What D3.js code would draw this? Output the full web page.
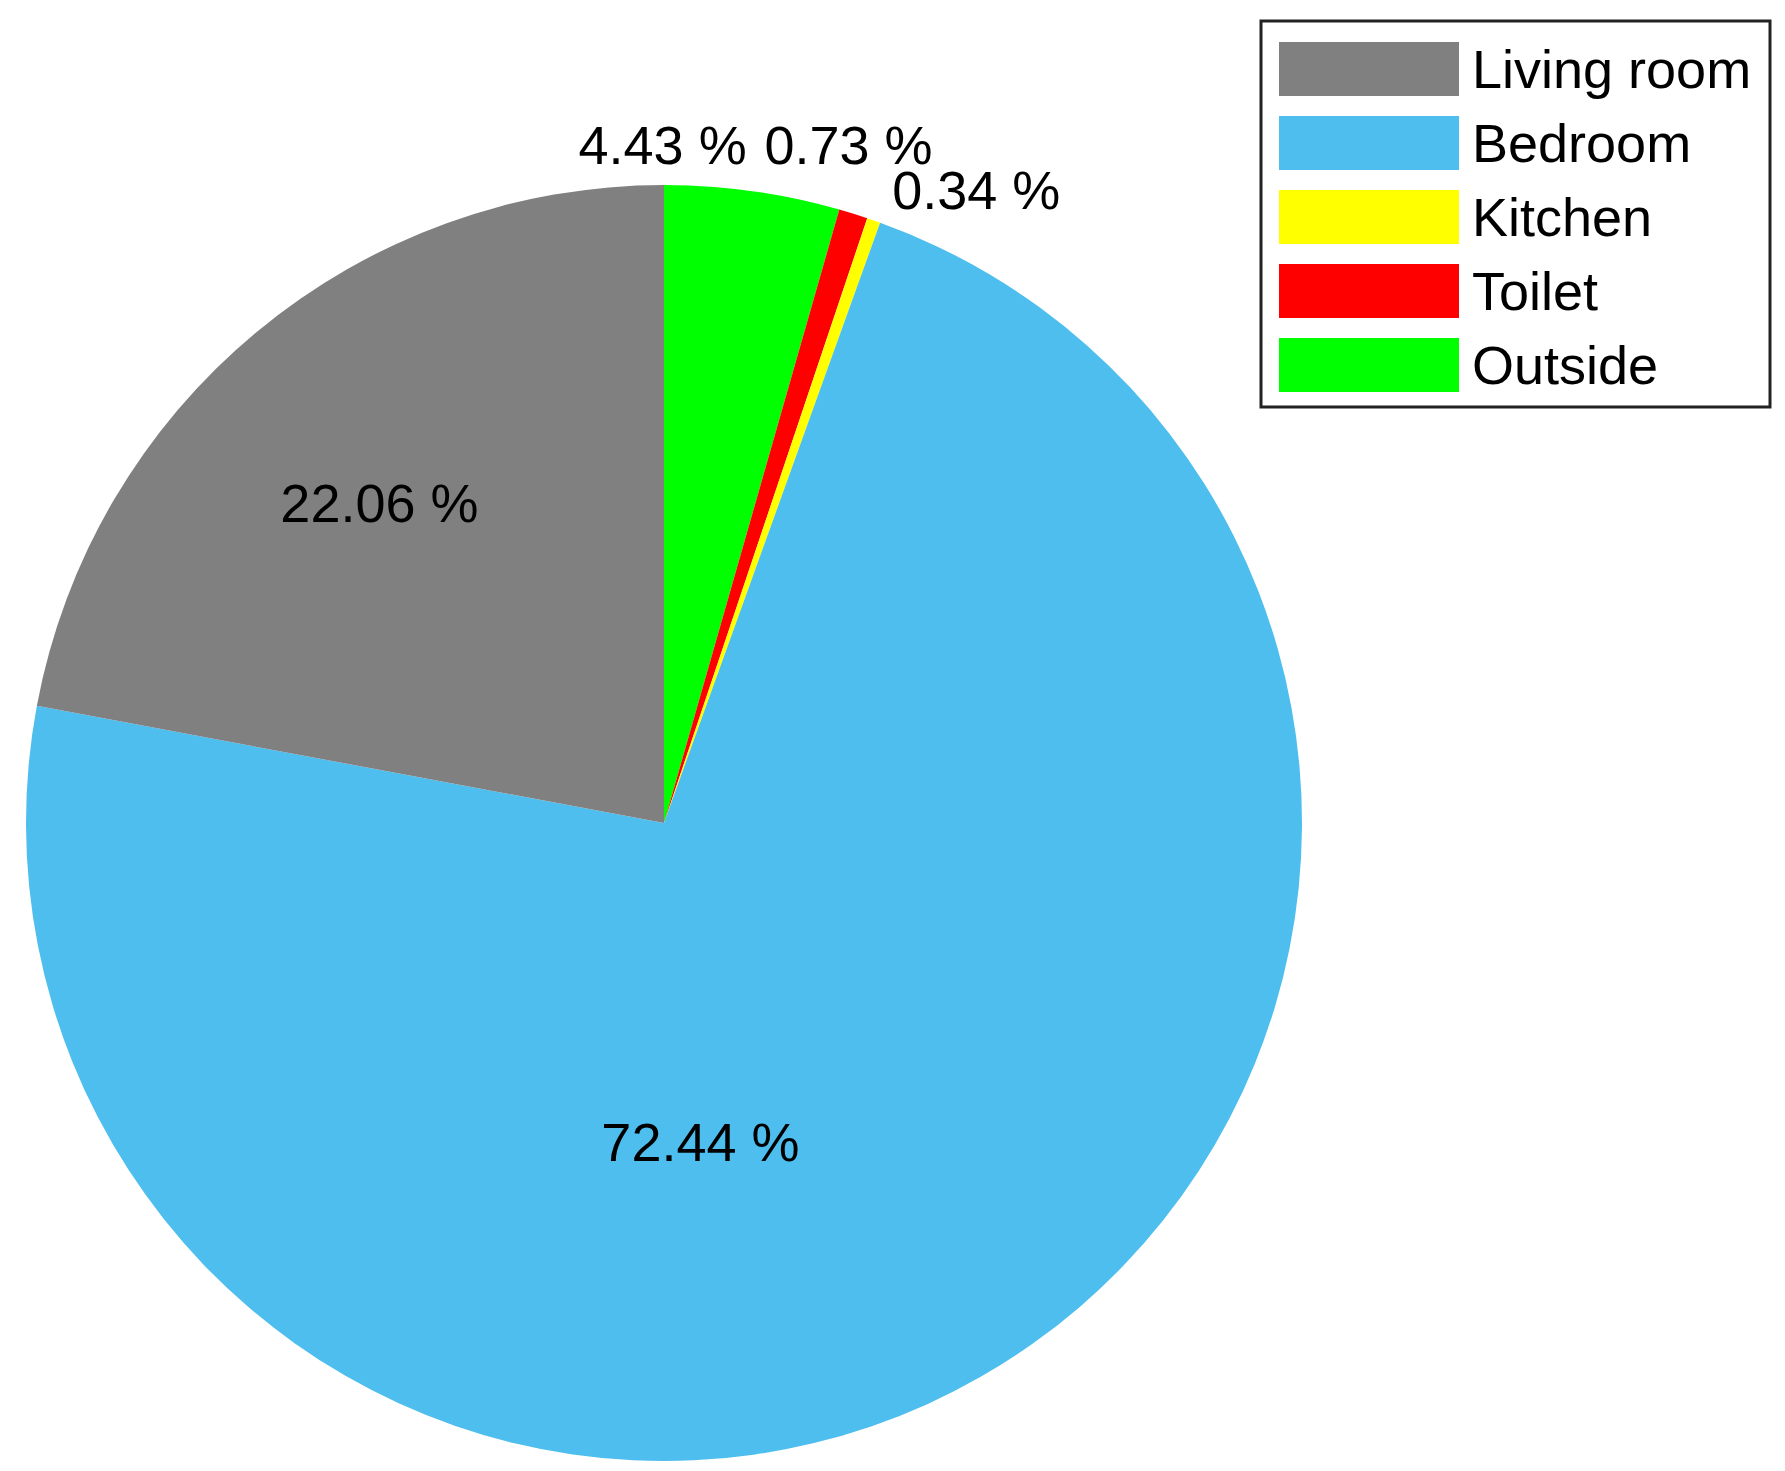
<!DOCTYPE html>
<html><head><meta charset="utf-8">
<script src="https://cdn.jsdelivr.net/npm/d3@7"></script>
<style>body{margin:0;background:#fff}</style>
</head><body>
<svg id="chart" width="1785" height="1471"></svg>
<script>
// slice order: clockwise from 12 o'clock
var sliceNames = ["Outside", "Toilet", "Kitchen", "Bedroom", "Living room"];
var sliceValues = [4.43, 0.73, 0.34, 72.44, 22.06];
var sliceColors = ["#00ff00", "#ff0000", "#ffff00", "#4dbeee", "#808080"];
var legendNames = ["Living room", "Bedroom", "Kitchen", "Toilet", "Outside"];

var svg = d3.select("#chart"),
    cx = 664, cy = 823, r = 638;

var data = sliceNames.map(function (n, i) { return {name: n, value: sliceValues[i], color: sliceColors[i]}; });

var pie = d3.pie().sort(null).value(function (d) { return d.value; });
var arc = d3.arc().innerRadius(0).outerRadius(r);
var arcs = pie(data);

var g = svg.append("g").attr("transform", "translate(" + cx + "," + cy + ")");
g.selectAll("path").data(arcs).enter().append("path")
    .attr("d", arc).attr("fill", function (d) { return d.data.color; });

// label placement: radius factor plus nudge
var labelPos = {
    "Outside": {k: 1.08, dx: -97, dy: 4},
    "Toilet": {k: 1.08, dx: -20, dy: -20},
    "Kitchen": {k: 1.06, dx: 90, dy: 6},
    "Bedroom": {k: 0.55, dx: -138, dy: 15},
    "Living room": {k: 0.6, dx: -40, dy: -25}
};
g.selectAll("text").data(arcs).enter().append("text")
    .attr("transform", function (d) {
        var p = labelPos[d.data.name];
        var a = (d.startAngle + d.endAngle) / 2, rr = r * p.k;
        return "translate(" + (rr * Math.sin(a) + p.dx) + "," + (-rr * Math.cos(a) + p.dy) + ")";
    })
    .attr("text-anchor", "middle").attr("dy", "0.35em")
    .style("font", "54px 'Liberation Sans', Arial, sans-serif")
    .text(function (d) { return d.data.value.toFixed(2) + " %"; });

// legend
var lg = svg.append("g").attr("transform", "translate(1261,21)");
lg.append("rect").attr("width", 509).attr("height", 386)
    .attr("fill", "#fff").attr("stroke", "#222").attr("stroke-width", 3);
var color = d3.scaleOrdinal().domain(sliceNames).range(sliceColors);
var row = lg.selectAll(".row").data(legendNames).enter().append("g")
    .attr("transform", function (d, i) { return "translate(18," + (48 + i * 74) + ")"; });
row.append("rect").attr("y", -27).attr("width", 180).attr("height", 54)
    .attr("fill", function (d) { return color(d); });
row.append("text").attr("x", 193).attr("dy", "0.35em")
    .style("font", "54px 'Liberation Sans', Arial, sans-serif")
    .text(function (d) { return d; });
</script>
</body></html>
